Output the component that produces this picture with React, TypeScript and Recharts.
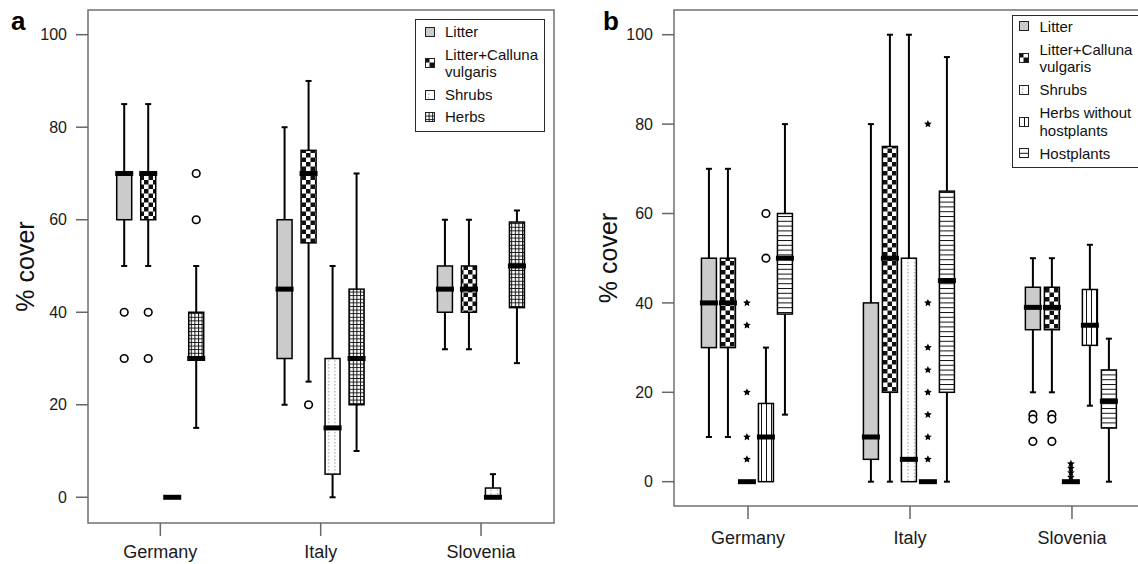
import React from "react";
import { Bar, ComposedChart, ReferenceArea, XAxis, YAxis } from "recharts";

const countries = ["Germany", "Italy", "Slovenia"];
const xTicks = [1, 2, 3];
const yTicks = [0, 20, 40, 60, 80, 100];

// lower whisker, Q1, median, Q3, upper whisker, outliers (o), extremes (*)
type Stat = {
  lo: number;
  q1: number;
  med: number;
  q3: number;
  hi: number;
  circles: number[];
  stars: number[];
};
const st = (
  lo: number,
  q1: number,
  med: number,
  q3: number,
  hi: number,
  circles: number[] = [],
  stars: number[] = []
): Stat => ({ lo, q1, med, q3, hi, circles, stars });

// panel a
const aLitter = [st(50, 60, 70, 70, 85, [40, 30]), st(20, 30, 45, 60, 80), st(32, 40, 45, 50, 60)];
const aCalluna = [st(50, 60, 70, 70, 85, [40, 30]), st(25, 55, 70, 75, 90, [20]), st(32, 40, 45, 50, 60)];
const aShrubs = [st(0, 0, 0, 0, 0), st(0, 5, 15, 30, 50), st(0, 0, 0, 2, 5)];
const aHerbs = [st(15, 30, 30, 40, 50, [60, 70]), st(10, 20, 30, 45, 70), st(29, 41, 50, 59.5, 62)];

// panel b
const bLitter = [st(10, 30, 40, 50, 70), st(0, 5, 10, 40, 80), st(20, 34, 39, 43.5, 50, [15, 14, 9])];
const bCalluna = [st(10, 30, 40, 50, 70), st(0, 20, 50, 75, 100), st(20, 34, 39, 43.5, 50, [15, 14, 9])];
const bShrubs = [
  st(0, 0, 0, 0, 0, [], [40, 35, 20, 10, 5]),
  st(0, 0, 5, 50, 100),
  st(0, 0, 0, 0, 0, [], [4, 3, 2, 1]),
];
const bHerbsNoHost = [
  st(0, 0, 10, 17.5, 30, [50, 60]),
  st(0, 0, 0, 0, 0, [], [80, 40, 30, 25, 20, 15, 10, 5]),
  st(17, 30.5, 35, 43, 53),
];
const bHostplants = [st(15, 37.5, 50, 60, 80), st(0, 20, 45, 65, 95), st(0, 12, 18, 25, 32)];

// every box is hung on a full 0-100 bar, so the glyph can map values with the bar's own scale
const FULL: [number, number] = [0, 100];

const seriesA = [
  { key: "litter", label: ["Litter"], fill: "#cbcbcb", data: aLitter },
  { key: "calluna", label: ["Litter+Calluna", "vulgaris"], fill: "url(#pat-checker)", data: aCalluna },
  { key: "shrubs", label: ["Shrubs"], fill: "url(#pat-dots)", data: aShrubs },
  { key: "herbs", label: ["Herbs"], fill: "url(#pat-grid)", data: aHerbs },
];

const seriesB = [
  { key: "litter", label: ["Litter"], fill: "#cbcbcb", data: bLitter },
  { key: "calluna", label: ["Litter+Calluna", "vulgaris"], fill: "url(#pat-checker)", data: bCalluna },
  { key: "shrubs", label: ["Shrubs"], fill: "url(#pat-dots)", data: bShrubs },
  { key: "herbsNoHost", label: ["Herbs without", "hostplants"], fill: "url(#pat-vlines)", data: bHerbsNoHost },
  { key: "hostplants", label: ["Hostplants"], fill: "url(#pat-hlines)", data: bHostplants },
];

type Series = (typeof seriesA)[number];

function buildRows(series: Series[]) {
  return countries.map((c, i) => {
    const row: any = { x: i + 1, country: c };
    series.forEach((s) => {
      row[s.key] = s.data[i];
    });
    return row;
  });
}

function starPath(cx: number, cy: number, r: number) {
  let d = "";
  for (let k = 0; k < 10; k++) {
    const rr = k % 2 ? r * 0.48 : r;
    const a = -Math.PI / 2 + (k * Math.PI) / 5;
    d += (k ? "L" : "M") + (cx + rr * Math.cos(a)).toFixed(2) + "," + (cy + rr * Math.sin(a)).toFixed(2);
  }
  return d + "Z";
}

function BoxGlyph(props: any) {
  const { x, y, width, height, payload, field, boxFill } = props;
  const s: Stat = payload[field];
  const top = Math.min(y, y + height);
  const h = Math.abs(height);
  const py = (v: number) => top + (h * (FULL[1] - v)) / (FULL[1] - FULL[0]);
  const cx = x + width / 2;
  const bw = 15;
  const mw = 18;
  return (
    <g>
      {s.hi > s.q3 && (
        <g stroke="#000" strokeWidth={2}>
          <line x1={cx} x2={cx} y1={py(s.q3)} y2={py(s.hi)} />
          <line x1={cx - 3} x2={cx + 3} y1={py(s.hi)} y2={py(s.hi)} />
        </g>
      )}
      {s.lo < s.q1 && (
        <g stroke="#000" strokeWidth={2}>
          <line x1={cx} x2={cx} y1={py(s.q1)} y2={py(s.lo)} />
          <line x1={cx - 3} x2={cx + 3} y1={py(s.lo)} y2={py(s.lo)} />
        </g>
      )}
      {s.q3 > s.q1 && (
        <rect
          x={cx - bw / 2}
          y={py(s.q3)}
          width={bw}
          height={py(s.q1) - py(s.q3)}
          fill={boxFill}
          stroke="#000"
          strokeWidth={1.5}
        />
      )}
      <rect x={cx - mw / 2} y={py(s.med) - 2.5} width={mw} height={5} fill="#000" />
      {s.circles.map((v, i) => (
        <circle key={"c" + i} cx={cx} cy={py(v)} r={3.8} fill="#fff" stroke="#000" strokeWidth={1.6} />
      ))}
      {s.stars.map((v, i) => (
        <path key={"s" + i} d={starPath(cx, py(v), 4)} fill="#000" />
      ))}
    </g>
  );
}

const yLabel = (baseX: number) => (props: any) => {
  const vb = props.viewBox || { x: 0, y: 0, width: 0, height: 0 };
  const lx = vb.x + baseX;
  const ly = vb.y + vb.height / 2;
  return (
    <text x={lx} y={ly} transform={`rotate(-90 ${lx} ${ly})`} textAnchor="middle" fontSize={25} fill="#111">
      % cover
    </text>
  );
};

function Panel(props: {
  series: Series[];
  width: number;
  xDomain: [number, number];
  yDomain: [number, number];
  xAxisHeight: number;
  xTickMargin: number;
  labelX: number;
}) {
  const { series, width, xDomain, yDomain, xAxisHeight, xTickMargin, labelX } = props;
  const rows = buildRows(series);
  return (
    <ComposedChart
      width={width}
      height={564}
      data={rows}
      margin={{ top: 10, right: 16, bottom: 0, left: 0 }}
      barGap={0}
      barCategoryGap="20%"
    >
      <XAxis
        type="number"
        dataKey="x"
        domain={xDomain}
        ticks={xTicks}
        interval={0}
        tickFormatter={(v: number) => countries[v - 1]}
        axisLine={false}
        tickSize={13}
        tickMargin={xTickMargin}
        height={xAxisHeight}
        tickLine={{ stroke: "#666", strokeWidth: 1.5 }}
        tick={{ fill: "#1a1a1a", fontSize: 18 }}
      />
      <YAxis
        type="number"
        domain={yDomain}
        ticks={yTicks}
        interval={0}
        width={88}
        axisLine={false}
        tickSize={12}
        tickMargin={9}
        tickLine={{ stroke: "#666", strokeWidth: 1.5 }}
        tick={{ fill: "#1a1a1a", fontSize: 16 }}
        label={yLabel(labelX)}
      />
      <ReferenceArea
        x1={xDomain[0]}
        x2={xDomain[1]}
        y1={yDomain[0]}
        y2={yDomain[1]}
        fill="none"
        stroke="#707070"
        strokeWidth={1.5}
        ifOverflow="visible"
      />
      {series.map((s) => (
        <Bar
          key={s.key}
          dataKey={() => FULL}
          isAnimationActive={false}
          shape={(p: any) => <BoxGlyph {...p} field={s.key} boxFill={s.fill} />}
        />
      ))}
    </ComposedChart>
  );
}

function LegendBox(props: { series: Series[]; style: React.CSSProperties; gap: number; pad: string }) {
  const { series, style, gap, pad } = props;
  return (
    <div
      style={{
        position: "absolute",
        border: "1.5px solid #2a2a2a",
        background: "#fff",
        padding: pad,
        display: "flex",
        flexDirection: "column",
        gap,
        fontSize: 15,
        color: "#111",
        boxSizing: "border-box",
        ...style,
      }}
    >
      {series.map((s) => (
        <div key={s.key} style={{ display: "flex", alignItems: "center" }}>
          <svg width={10} height={10} style={{ marginRight: 10.5, flex: "none" }}>
            <rect x={0.5} y={0.5} width={9} height={9} fill={s.fill} stroke="#222" />
          </svg>
          <div style={{ lineHeight: "17.4px", whiteSpace: "nowrap" }}>
            {s.label.map((l) => (
              <div key={l}>{l}</div>
            ))}
          </div>
        </div>
      ))}
    </div>
  );
}

function Patterns() {
  return (
    <svg width={0} height={0} style={{ position: "absolute" }}>
      <defs>
        <pattern id="pat-checker" width={9} height={9} patternUnits="userSpaceOnUse">
          <rect width={9} height={9} fill="#fff" />
          <rect width={4.5} height={4.5} fill="#111" />
          <rect x={4.5} y={4.5} width={4.5} height={4.5} fill="#111" />
        </pattern>
        <pattern id="pat-dots" width={6.5} height={3.4} patternUnits="userSpaceOnUse">
          <rect width={6.5} height={3.4} fill="#fff" />
          <rect x={3} y={0} width={1} height={1.4} fill="#8a8a8a" />
        </pattern>
        <pattern id="pat-grid" width={3.6} height={3.6} patternUnits="userSpaceOnUse">
          <rect width={3.6} height={3.6} fill="#fff" />
          <path d="M0 0.5H3.6M0.5 0V3.6" stroke="#111" strokeWidth={1} />
        </pattern>
        <pattern id="pat-vlines" width={5} height={5} patternUnits="userSpaceOnUse">
          <rect width={5} height={5} fill="#fff" />
          <path d="M0.5 0V5" stroke="#111" strokeWidth={1} />
        </pattern>
        <pattern id="pat-hlines" width={5} height={4.8} patternUnits="userSpaceOnUse">
          <rect width={5} height={4.8} fill="#fff" />
          <path d="M0 0.5H5" stroke="#111" strokeWidth={1} />
        </pattern>
      </defs>
    </svg>
  );
}

export default function App() {
  return (
    <div
      style={{
        position: "fixed",
        left: 0,
        top: 0,
        width: 1138,
        height: 564,
        overflow: "hidden",
        background: "#fff",
        fontFamily: "'Liberation Sans', Arial, sans-serif",
      }}
    >
      <Patterns />
      <div style={{ position: "absolute", left: 0, top: 0 }}>
        <Panel
          series={seriesA}
          width={570}
          xDomain={[0.549, 3.455]}
          yDomain={[-5.56, 105.34]}
          xAxisHeight={41}
          xTickMargin={9.4}
          labelX={34}
        />
      </div>
      <div style={{ position: "absolute", left: 586, top: 0 }}>
        <Panel
          series={seriesB}
          width={576}
          xDomain={[0.543, 3.457]}
          yDomain={[-5.44, 105.53]}
          xAxisHeight={58}
          xTickMargin={12.4}
          labelX={31}
        />
      </div>
      <LegendBox
        series={seriesA}
        gap={5.2}
        pad="3px 6px 4.5px 9px"
        style={{ left: 414.5, top: 19.3, width: 130, height: 113 }}
      />
      <LegendBox
        series={seriesB}
        gap={5.7}
        pad="1.5px 6px 3.8px 6.3px"
        style={{ left: 1011.7, top: 15, width: 150, height: 153 }}
      />
      <div style={{ position: "absolute", left: 11, top: 6, fontSize: 26, fontWeight: 700, lineHeight: "30px" }}>a</div>
      <div style={{ position: "absolute", left: 603, top: 6, fontSize: 26, fontWeight: 700, lineHeight: "30px" }}>b</div>
    </div>
  );
}
